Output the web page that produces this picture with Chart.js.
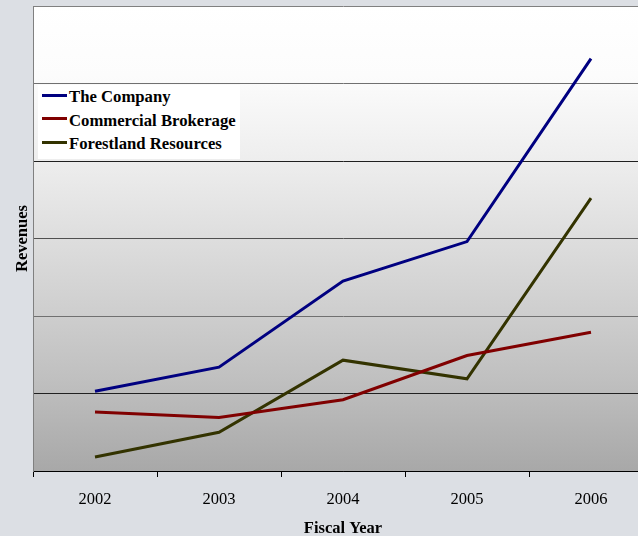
<!DOCTYPE html>
<html>
<head>
<meta charset="utf-8">
<script src="https://cdn.jsdelivr.net/npm/chart.js@4.4.1/dist/chart.umd.min.js"></script>
<style>
  html, body { margin: 0; padding: 0; background: #dcdfe4; overflow: hidden; }
  #wrap { position: relative; width: 654px; height: 536px; }
  #legend { position: absolute; left: 38px; top: 85px; width: 202px; height: 74px; background: #ffffff; }
  .row { position: absolute; left: 0; width: 202px; height: 20px; }
  .sw { position: absolute; left: 4px; width: 25px; height: 3px; }
  .tx { position: absolute; left: 31px; top: 0; line-height: 20px; white-space: nowrap;
        font: bold 16.7px "Liberation Serif", "Times New Roman", serif; color: #000; }
</style>
</head>
<body>
<div id="wrap">
  <canvas id="c"></canvas>
  <div id="legend"></div>
</div>
<script>
const categories = ['2002', '2003', '2004', '2005', '2006'];
const seriesNames = ['The Company', 'Commercial Brokerage', 'Forestland Resources'];
const companyValues = [1.03, 1.34, 2.45, 2.96, 5.32];
const brokerageValues = [0.76, 0.69, 0.92, 1.49, 1.79];
const forestlandValues = [0.18, 0.50, 1.43, 1.19, 3.52];
const seriesColors = ['#000080', '#800000', '#333300'];
const yMin = 0, yMax = 6, yStep = 1;

const serif = '"Liberation Serif", "Times New Roman", serif';

const bgPlugin = {
  id: 'plotBg',
  beforeDraw(chart) {
    const { ctx, chartArea: a } = chart;
    const g = ctx.createLinearGradient(0, a.top, 0, a.bottom);
    g.addColorStop(0, '#ffffff');
    g.addColorStop(0.15, '#fcfcfc');
    g.addColorStop(0.35, '#ececec');
    g.addColorStop(0.6, '#d4d4d4');
    g.addColorStop(0.8, '#c0c0c0');
    g.addColorStop(1, '#a8a8a8');
    ctx.save();
    ctx.fillStyle = g;
    ctx.fillRect(a.left, a.top, a.right - a.left, a.bottom - a.top);
    ctx.restore();
  }
};

const gridColors = { 0: '#000000', 1: '#202020', 2: '#707070', 3: '#505050', 4: '#202020', 5: '#707070', 6: '#808080' };

const seriesValues = [companyValues, brokerageValues, forestlandValues];

new Chart(document.getElementById('c'), {
  type: 'line',
  data: {
    labels: categories,
    datasets: seriesNames.map((n, i) => ({
      label: n,
      data: seriesValues[i],
      borderColor: seriesColors[i],
      backgroundColor: seriesColors[i],
      borderWidth: 3,
      pointRadius: 0,
      tension: 0,
      fill: false
    }))
  },
  options: {
    responsive: true,
    maintainAspectRatio: false,
    animation: false,
    devicePixelRatio: 1,
    layout: { padding: { top: 6, right: 1, left: 0, bottom: 0 } },
    plugins: { legend: { display: false }, tooltip: { enabled: false } },
    scales: {
      x: {
        offset: true,
        grid: { display: true, drawOnChartArea: false, drawTicks: true, tickLength: 6, offset: true, color: '#000000' },
        border: { display: true, color: '#000000', width: 1 },
        ticks: { color: '#000000', font: { family: serif, size: 16.5 }, padding: 13, maxRotation: 0 },
        title: { display: true, text: 'Fiscal Year', color: '#000000', font: { family: serif, size: 16.5, weight: 'bold' }, padding: { top: 4, bottom: -3 } },
        afterFit(s) { s.height = 65; }
      },
      y: {
        min: yMin, max: yMax,
        ticks: { display: false, stepSize: yStep },
        grid: { drawTicks: false, color: (ctx) => gridColors[ctx.tick ? ctx.tick.value : 0] || '#404040' },
        border: { display: true, color: '#808080', width: 1 },
        title: { display: true, text: 'Revenues', color: '#000000', font: { family: serif, size: 16.5, weight: 'bold' }, padding: { top: 13, bottom: 2 } },
        afterFit(s) { s.width = 33; }
      }
    }
  },
  plugins: [bgPlugin]
});

const legend = document.getElementById('legend');
seriesNames.forEach((n, i) => {
  const row = document.createElement('div');
  row.className = 'row';
  row.style.top = (2 + i * 23.7) + 'px';
  const sw = document.createElement('div');
  sw.className = 'sw';
  sw.style.background = seriesColors[i];
  sw.style.top = '6.5px';
  const tx = document.createElement('div');
  tx.className = 'tx';
  tx.textContent = n;
  row.appendChild(sw);
  row.appendChild(tx);
  legend.appendChild(row);
});
</script>
</body>
</html>
